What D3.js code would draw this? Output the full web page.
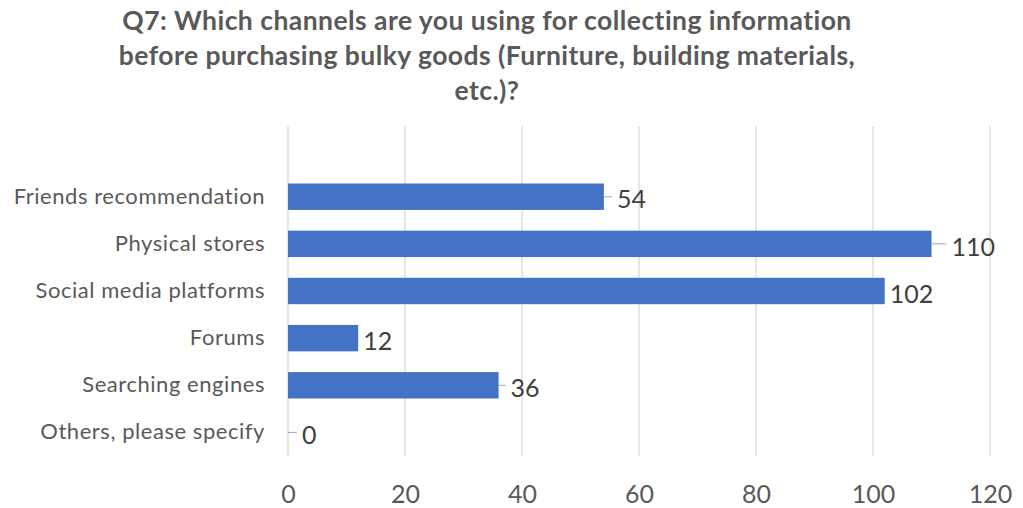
<!DOCTYPE html>
<html>
<head>
<meta charset="utf-8">
<script src="https://cdn.jsdelivr.net/npm/d3@7"></script>
<style>
  html, body { margin: 0; padding: 0; background: #fff; }
  svg { display: block; }
</style>
</head>
<body>
<svg id="chart" width="1023" height="508"></svg>
<script>
// Survey answers, top to bottom
const categories = [
  "Friends recommendation",
  "Physical stores",
  "Social media platforms",
  "Forums",
  "Searching engines",
  "Others, please specify"
];
const counts = [54, 110, 102, 12, 36, 0];
const xTicks = [0, 20, 40, 60, 80, 100, 120];
const titleLines = [
  "Q7: Which channels are you using for collecting information",
  "before purchasing bulky goods (Furniture, building materials,",
  "etc.)?"
];

// Short leader lines drawn between a bar end and its label (px)
const leaderLen = [8, 15, 0, 0, 7, 9];

const W = 1023, H = 508;
const plot = { left: 288, right: 990, top: 126, bottom: 456 };
const gray = "#595959";
const font = "Lato, 'Open Sans', sans-serif";

const svg = d3.select("#chart");

const x = d3.scaleLinear().domain([0, 120]).range([plot.left, plot.right]);
const step = (plot.bottom - plot.top) / 7;
const y = d3.scaleBand()
  .domain(categories)
  .range([plot.top + step, plot.bottom])
  .paddingInner(0.44)
  .paddingOuter(0.22);

// Title
svg.append("g")
  .selectAll("text")
  .data(titleLines)
  .join("text")
  .attr("x", 487)
  .attr("y", (d, i) => 30 + i * 35)
  .attr("text-anchor", "middle")
  .attr("font-family", font)
  .attr("font-weight", 700)
  .attr("font-size", 26.5)
  .attr("letter-spacing", 0.45)
  .attr("fill", gray)
  .text(d => d);

// Vertical gridlines
svg.append("g")
  .selectAll("line")
  .data(xTicks)
  .join("line")
  .attr("x1", d => x(d)).attr("x2", d => x(d))
  .attr("y1", plot.top).attr("y2", plot.bottom)
  .attr("stroke", "#d9d9d9")
  .attr("stroke-width", 1.3);

// Bottom tick labels via d3 axis
const xAxis = svg.append("g")
  .attr("transform", `translate(0,${plot.bottom})`)
  .call(d3.axisBottom(x).tickValues(xTicks).tickSize(0).tickPadding(29));
xAxis.select(".domain").remove();
xAxis.selectAll("text")
  .attr("font-family", font)
  .attr("font-size", 25)
  .attr("fill", gray);

// Category labels via d3 axis
const yAxis = svg.append("g")
  .attr("transform", `translate(${plot.left},0)`)
  .call(d3.axisLeft(y).tickSize(0).tickPadding(23));
yAxis.select(".domain").remove();
yAxis.selectAll("text")
  .attr("font-family", font)
  .attr("font-size", 22)
  .attr("letter-spacing", 0.55)
  .attr("fill", gray);

// Bars
svg.append("g")
  .selectAll("rect")
  .data(categories)
  .join("rect")
  .attr("x", x(0))
  .attr("y", d => y(d))
  .attr("width", (d, i) => x(counts[i]) - x(0))
  .attr("height", y.bandwidth())
  .attr("fill", "#4472c4");

// Leader lines
svg.append("g")
  .selectAll("line")
  .data(categories.filter((d, i) => leaderLen[i] > 0))
  .join("line")
  .attr("x1", d => x(counts[categories.indexOf(d)]))
  .attr("x2", d => x(counts[categories.indexOf(d)]) + leaderLen[categories.indexOf(d)])
  .attr("y1", d => y(d) + y.bandwidth() / 2)
  .attr("y2", d => y(d) + y.bandwidth() / 2)
  .attr("stroke", "#a6a6a6")
  .attr("stroke-width", 1);

// Value labels
svg.append("g")
  .selectAll("text")
  .data(categories)
  .join("text")
  .attr("x", (d, i) => x(counts[i]) + leaderLen[i] + 5)
  .attr("y", d => y(d) + y.bandwidth() / 2 + 3)
  .attr("dy", "0.35em")
  .attr("font-family", font)
  .attr("font-size", 25)
  .attr("fill", "#404040")
  .text((d, i) => counts[i]);
</script>
</body>
</html>
